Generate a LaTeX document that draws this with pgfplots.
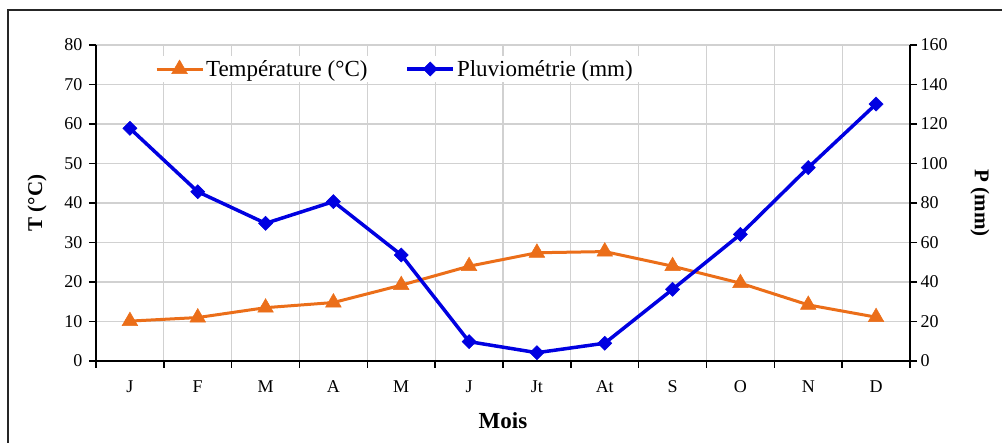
\documentclass[border=0pt]{standalone}
\usepackage{fontspec}
\setmainfont{Liberation Serif}
\usepackage{pgfplots}
\pgfplotsset{compat=1.18}

\definecolor{torange}{RGB}{235,110,25}
\definecolor{pblue}{RGB}{0,0,225}

\pgfplotsset{
  diagram/.style={
    scale only axis, width=814pt, height=316pt,
    xmin=-0.5, xmax=11.5,
    ymin=0,
    tick align=outside,
    major tick length=7pt,
    axis line style={black, line width=1.8pt},
    every tick/.style={black, line width=1.5pt},
    xticklabel style={font=\fontsize{18}{21}\selectfont},
    yticklabel style={font=\fontsize{18}{21}\selectfont},
    /pgf/number format/assume math mode=true,
    clip=false,
  },
}

\begin{document}
\begin{tikzpicture}
\useasboundingbox (-96pt,-82pt) rectangle (906pt,361pt);
\draw[line width=1.5pt, black!85] (-88pt,-84pt) -- (-88pt,351pt) -- (910pt,351pt);

\begin{axis}[
  diagram,
  ymax=80, ytick distance=10,
  axis y line*=left, axis x line*=bottom,
  yticklabel style={xshift=-3pt},
  xtick={-0.5,0.5,...,11.5}, xticklabels={},
  extra x ticks={0,1,2,3,4,5,6,7,8,9,10,11},
  extra x tick labels={J,F,M,A,M,J,Jt,At,S,O,N,D},
  extra x tick style={major tick length=0pt, grid=none,
    xticklabel style={yshift=-16pt}},
  xmajorgrids, ymajorgrids,
  grid style={draw=black!18, line width=1.2pt},
  every axis x label/.style={at={(axis description cs:0.5,0)}, anchor=center, yshift=-60pt},
  every axis y label/.style={at={(axis description cs:-0.0725,0.5)}, rotate=90, anchor=center},
  xlabel={\fontsize{23}{26}\selectfont\bfseries Mois},
  ylabel={\fontsize{21}{24}\selectfont\bfseries T (°C)},
  legend style={at={(0.06,0.965)}, anchor=north west, draw=none, fill=white,
    legend columns=2, font=\fontsize{23}{27}\selectfont,
    inner xsep=10pt, inner ysep=2pt,
    /tikz/every even column/.append style={column sep=36pt}},
  legend image code/.code={\draw[mark repeat=2, mark phase=2, #1]
    plot coordinates {(0pt,0pt) (23pt,0pt) (46pt,0pt)};},
]
\addplot[torange, line width=3pt, mark=triangle*, mark size=9pt,
  mark options={solid, line width=0.5pt}]
  coordinates {(0,10.1) (1,11.0) (2,13.5) (3,14.8) (4,19.2) (5,24.0)
               (6,27.4) (7,27.7) (8,24.0) (9,19.7) (10,14.2) (11,11.1)};
\addlegendentry{Température (°C)}
\addlegendimage{pblue, line width=3.5pt, mark=square*, mark size=5pt,
  mark options={solid, rotate=45, line width=0.5pt}}
\addlegendentry{Pluviométrie (mm)}
\end{axis}

\begin{axis}[
  diagram,
  ymax=160, ytick distance=20,
  axis y line*=right, axis x line=none,
  every axis y label/.style={at={(axis description cs:1.086,0.5)}, rotate=-90, anchor=center},
  ylabel={\fontsize{21}{24}\selectfont\bfseries P (mm)},
]
\addplot[pblue, line width=3.5pt, mark=square*, mark size=5pt,
  mark options={solid, rotate=45, line width=0.5pt}]
  coordinates {(0,117.8) (1,85.7) (2,69.7) (3,80.7) (4,53.7) (5,9.8)
               (6,4.2) (7,9.0) (8,36.3) (9,64.1) (10,97.9) (11,130.1)};
\end{axis}
\end{tikzpicture}
\end{document}
